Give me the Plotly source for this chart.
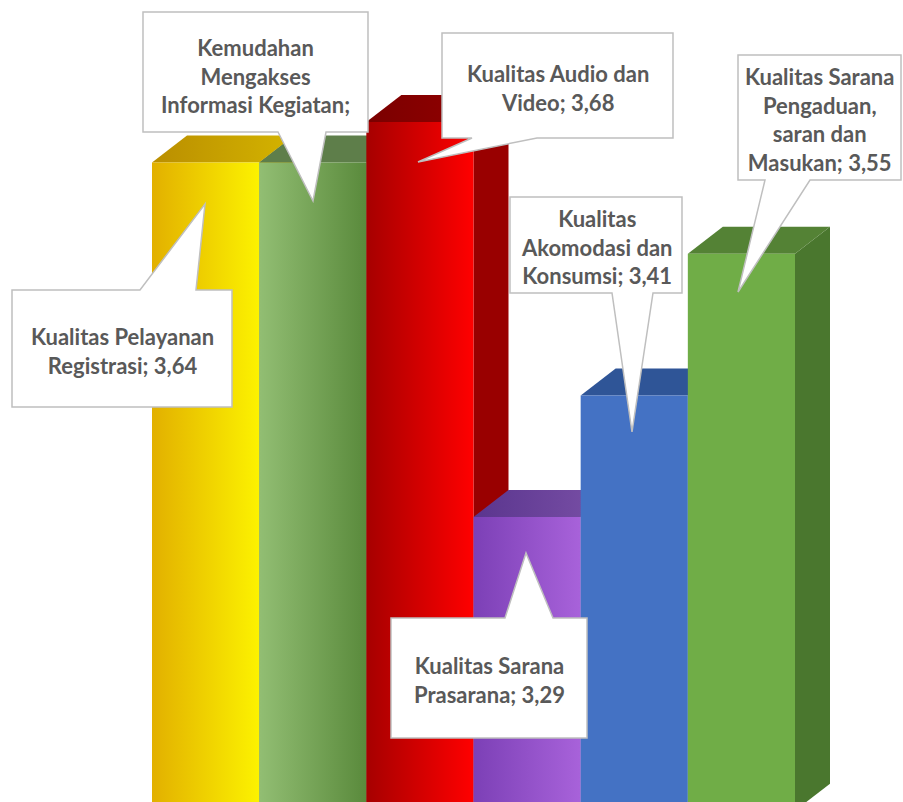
import plotly.graph_objects as go

# ---------------- data ----------------
categories = [
    "Kualitas Pelayanan Registrasi",
    "Kemudahan Mengakses Informasi Kegiatan",
    "Kualitas Audio dan Video",
    "Kualitas Sarana Prasarana",
    "Kualitas Akomodasi dan Konsumsi",
    "Kualitas Sarana Pengaduan, saran dan Masukan",
]
values = [3.64, 3.64, 3.68, 3.29, 3.41, 3.55]
label_lines = [
    ["Kualitas Pelayanan", "Registrasi; {v}"],
    ["Kemudahan", "Mengakses", "Informasi Kegiatan;"],
    ["Kualitas Audio dan", "Video; {v}"],
    ["Kualitas Sarana", "Prasarana; {v}"],
    ["Kualitas", "Akomodasi dan", "Konsumsi; {v}"],
    ["Kualitas Sarana", "Pengaduan,", "saran dan", "Masukan; {v}"],
]
axis_min = 3.0

# ---------------- styles ----------------
front_colors = [
    ("#E2B000", "#FCF200"),
    ("#92BE73", "#5A8A3C"),
    ("#A60000", "#FF0000"),
    ("#7C40B6", "#A862DA"),
    ("#4472C4", "#4472C4"),
    ("#70AD47", "#70AD47"),
]
top_colors = [
    ("#BA8E00", "#D4B400"),
    ("#5E7E4A", "#5E7E4A"),
    ("#7A0000", "#990000"),
    ("#5A358E", "#7C52A8"),
    ("#2F5597", "#2F5597"),
    ("#548235", "#548235"),
]
side_colors = ["#B89000", "#4E7434", "#990000", "#6A3A9C", "#2F5597", "#4A772E"]

W, H = 903, 802
# pixel geometry of the plot (layout only)
left_px, right_px = 152, 795
n = len(values)
PXX = (right_px - left_px) / n
x_range = [-0.5 - left_px / PXX, n - 0.5 + (W - right_px) / PXX]
y_range = [3.0086, 3.8005]
PYY = H / (y_range[1] - y_range[0])
DX = 35 / PXX
DY = 27 / PYY

fig = go.Figure()


def poly(xs, ys, c1, c2):
    kw = dict(
        x=xs + [xs[0]], y=ys + [ys[0]], mode="lines", fill="toself",
        line=dict(width=0), hoverinfo="skip", showlegend=False,
    )
    if c1 == c2:
        kw["fillcolor"] = c1
    else:
        kw["fillgradient"] = dict(type="horizontal", colorscale=[[0, c1], [1, c2]])
    fig.add_trace(go.Scatter(**kw))


for i, v in enumerate(values):
    L, R, B = i - 0.5, i + 0.5, axis_min
    # side face
    poly([R, R + DX, R + DX, R], [B, B + DY, v + DY, v], side_colors[i], side_colors[i])
    # top face
    poly([L, R, R + DX, L + DX], [v, v, v + DY, v + DY], *top_colors[i])
    # front face
    poly([L, R, R, L], [B, B, v, v], *front_colors[i])

# ---------------- callouts (pixel layout) ----------------
# box (x0, y0, x1, y1), pointer edge, base (a, b), tip (tx, ty)
callouts = [
    ((12, 290, 232, 407), "top", (140, 196), (205, 204)),
    ((143, 12, 368, 132), "bottom", (278, 326), (313, 201)),
    ((442, 33, 673, 138), "bottom", (472, 537), (418, 162)),
    ((391, 618, 587, 738), "top", (505, 553), (526, 553)),
    ((510, 197, 682, 293), "bottom", (612, 653), (632, 432)),
    ((738, 55, 901, 180), "bottom", (765, 810), (738, 292)),
]
text_dy = [2, 4, 2, 2, 2, 2]


def P(x, y):
    return f"{x / W:.5f},{1 - y / H:.5f}"


for i, (box, edge, base, tip) in enumerate(callouts):
    x0, y0, x1, y1 = box
    a, b = base
    tx, ty = tip
    if edge == "top":
        pts = [(x0, y0), (a, y0), (tx, ty), (b, y0), (x1, y0), (x1, y1), (x0, y1)]
    else:
        pts = [(x0, y0), (x1, y0), (x1, y1), (b, y1), (tx, ty), (a, y1), (x0, y1)]
    path = "M " + " L ".join(P(x, y) for x, y in pts) + " Z"
    fig.add_shape(type="path", path=path, xref="paper", yref="paper",
                  fillcolor="white", line=dict(color="#BFBFBF", width=1.5),
                  layer="above")
    txt = "<br>".join(s.format(v=f"{values[i]:.2f}".replace(".", ",")) for s in label_lines[i])
    fig.add_annotation(
        x=(x0 + x1) / 2 / W, y=1 - ((y0 + y1) / 2 + text_dy[i]) / H,
        xref="paper", yref="paper",
        text="<b>" + txt + "</b>", showarrow=False, align="center",
        xanchor="center", yanchor="middle",
        font=dict(family="Lato", size=22, color="#595959"),
    )

fig.update_layout(
    width=W, height=H, margin=dict(l=0, r=0, t=0, b=0),
    paper_bgcolor="white", plot_bgcolor="white",
    xaxis=dict(range=x_range, visible=False, fixedrange=True),
    yaxis=dict(range=y_range, visible=False, fixedrange=True),
    showlegend=False,
)
fig.write_html("out.html")
